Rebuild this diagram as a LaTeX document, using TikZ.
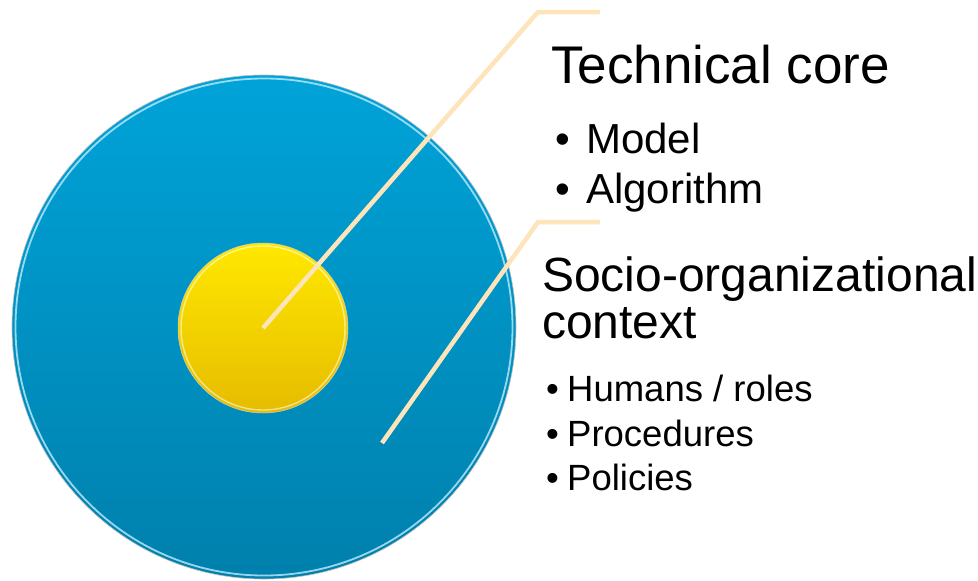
\documentclass[tikz,border=0pt]{standalone}
\usepackage{fontspec}
\setmainfont{Liberation Sans}
\usepackage{tikz}

\definecolor{ctxtop}{HTML}{00A3D9}
\definecolor{ctxbot}{HTML}{0080AC}
\definecolor{coretop}{HTML}{FFE800}
\definecolor{corebot}{HTML}{E6BC00}
\definecolor{leadcol}{HTML}{FDE4BA}

\newcommand{\bitem}[2]{\makebox[#1][l]{\textbullet}#2}

\begin{document}
\begin{tikzpicture}[x=1pt,y=-1pt,
    leader/.style={draw=leadcol,line width=4.5pt},
    head/.style={anchor=base west,inner sep=0pt}]
  \useasboundingbox (0,0) rectangle (978,581);

  % outer disc
  \node[circle,minimum size=504pt,inner sep=0pt,top color=ctxtop,bottom color=ctxbot,
        draw=black!25,line width=0.6pt](ctx) at (264,327){};
  \draw[cyan!30!white,line width=1.8pt,opacity=0.85] (ctx.center) circle (248.5);

  % inner disc
  \node[circle,minimum size=170pt,inner sep=0pt,top color=coretop,bottom color=corebot,
        draw=black!20,line width=0.5pt](core) at (263,328){};
  \draw[white,line width=1.4pt,opacity=0.55] (core.center) circle (82);

  % callout lines
  \coordinate (bendA) at (538,12);
  \coordinate (endA) at (600,12);
  \coordinate (ctxpt) at (382,443);
  \coordinate (bendB) at (538,222);
  \coordinate (endB) at (600,222);
  \draw[leader] (core.center) -- (bendA) -- (endA);
  \draw[leader] (ctxpt) -- (bendB) -- (endB);

  % labels
  \node[head,font=\fontsize{53}{60}\selectfont](tc) at (551,83){Technical core};
  \node[head,font=\fontsize{42}{50}\selectfont](model) at (555,153){\bitem{31pt}{Model}};
  \node[head,font=\fontsize{42}{50}\selectfont](algo) at (555,203){\bitem{31pt}{Algorithm}};

  \node[head,font=\fontsize{48}{55}\selectfont](soc) at (542,291){Socio-organizational};
  \node[head,font=\fontsize{48}{55}\selectfont](cont) at (542,338){context};
  \node[head,font=\fontsize{36.5}{44}\selectfont](hum) at (546,401){\bitem{21pt}{Humans / roles}};
  \node[head,font=\fontsize{36.5}{44}\selectfont](proc) at (546,446){\bitem{21pt}{Procedures}};
  \node[head,font=\fontsize{36.5}{44}\selectfont](pol) at (546,490){\bitem{21pt}{Policies}};
\end{tikzpicture}
\end{document}
